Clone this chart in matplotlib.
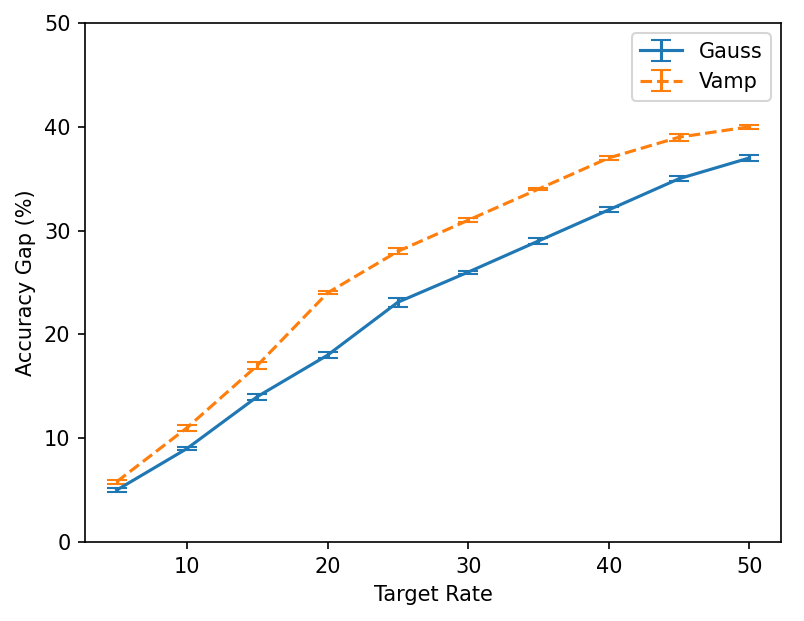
import matplotlib
matplotlib.use("Agg")
import matplotlib.pyplot as plt

rates = [5, 10, 15, 20, 25, 30, 35, 40, 45, 50]
gauss = [5.0, 9.0, 14.0, 18.0, 23.1, 26.0, 29.0, 32.0, 35.0, 37.0]
gauss_err = [0.2, 0.15, 0.3, 0.3, 0.45, 0.15, 0.3, 0.25, 0.25, 0.3]
vamp = [5.8, 11.0, 17.0, 24.0, 28.0, 31.0, 34.0, 37.0, 39.0, 40.0]
vamp_err = [0.2, 0.3, 0.3, 0.15, 0.3, 0.2, 0.1, 0.2, 0.35, 0.2]

dpi = 150
fig = plt.figure(figsize=(805 / dpi, 621 / dpi), dpi=dpi)
ax = fig.add_axes([85 / 805, 1 - 542 / 621, (781 - 85) / 805, (542 - 23) / 621])

ax.errorbar(rates, gauss, yerr=gauss_err, capsize=5, color='#1f77b4', linestyle='-', label='Gauss')
ax.errorbar(rates, vamp, yerr=vamp_err, capsize=5, color='#ff7f0e', linestyle='--', label='Vamp')

ax.set_ylim(0, 50)
ax.set_xlim(2.75, 52.25)
ax.set_xticks([10, 20, 30, 40, 50])
ax.set_yticks([0, 10, 20, 30, 40, 50])
ax.set_xlabel('Target Rate')
ax.set_ylabel('Accuracy Gap (%)')
ax.legend(loc='upper right')

fig.savefig('out.png', dpi=dpi)
